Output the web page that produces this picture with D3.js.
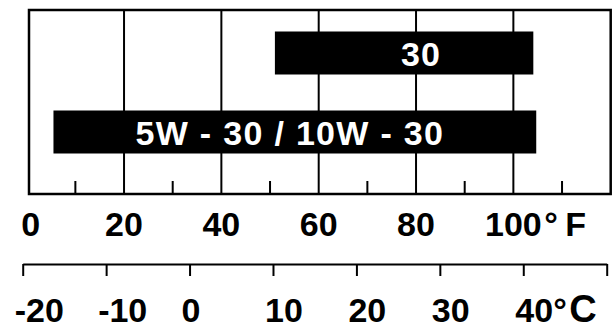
<!DOCTYPE html>
<html>
<head>
<meta charset="utf-8">
<script src="https://cdn.jsdelivr.net/npm/d3@7"></script>
<style>
  html, body { margin: 0; padding: 0; background: #fff; }
  svg { display: block; }
  text { font-family: "Liberation Sans", Arial, sans-serif; font-weight: bold; }
</style>
</head>
<body>
<svg id="chart" width="614" height="322"></svg>
<script>
// oil grades and their temperature span in degrees F
var grades = ["30", "5W - 30 / 10W - 30"];
var gradeLowF = [51, 5.5];
var gradeHighF = [104.1, 104.7];

// fahrenheit scale (inside the frame)
var fMajor = [0, 20, 40, 60, 80, 100];
var fMinor = [10, 30, 50, 70, 90, 110];
var fGrid = [20, 40, 60, 80, 100];

// celsius scale (under the chart)
var cTicks = [-20, -10, 0, 10, 20, 30, 40, 50];
var cLabels = [-20, -10, 0, 10, 20, 30, 40];

var svg = d3.select("#chart");

var frameTop = 10, frameBottom = 194, frameLeft = 29;

var x = d3.scaleLinear().domain([0, 120]).range([26.7, 610.7]);
var xc = d3.scaleLinear().domain([-20, 50]).range([22.7, 606.7]);
var y = d3.scalePoint().domain(grades).range([53, 132]);
var barH = 43;

// gridlines every 20F, full height
svg.append("g").selectAll("line").data(fGrid).enter().append("line")
    .attr("x1", function (d) { return x(d); })
    .attr("x2", function (d) { return x(d); })
    .attr("y1", frameTop)
    .attr("y2", frameBottom)
    .attr("stroke", "#000")
    .attr("stroke-width", 2);

// short ticks on the odd tens
svg.append("g").selectAll("line").data(fMinor).enter().append("line")
    .attr("x1", function (d) { return x(d); })
    .attr("x2", function (d) { return x(d); })
    .attr("y1", frameBottom - 13)
    .attr("y2", frameBottom)
    .attr("stroke", "#000")
    .attr("stroke-width", 2);

// bars
var bars = svg.append("g").selectAll("g").data(grades).enter().append("g");
bars.append("rect")
    .attr("x", function (d, i) { return x(gradeLowF[i]); })
    .attr("y", function (d) { return y(d) - barH / 2; })
    .attr("width", function (d, i) { return x(gradeHighF[i]) - x(gradeLowF[i]); })
    .attr("height", barH)
    .attr("fill", "#000");
bars.append("text")
    .attr("x", function (d, i) { return x(gradeHighF[i]) - 92; })
    .attr("y", function (d) { return y(d) + 13; })
    .attr("text-anchor", "end")
    .attr("fill", "#fff")
    .style("font-size", "34px")
    .style("letter-spacing", "1.3px")
    .text(function (d) { return d; });

// frame
svg.append("rect")
    .attr("x", frameLeft)
    .attr("y", frameTop)
    .attr("width", x(120) - frameLeft)
    .attr("height", frameBottom - frameTop)
    .attr("fill", "none")
    .attr("stroke", "#000")
    .attr("stroke-width", 2.5);

// fahrenheit labels
svg.append("g").selectAll("text").data(fMajor).enter().append("text")
    .attr("x", function (d) { return d === 0 ? x(d) + 4 : x(d); })
    .attr("y", 236)
    .attr("text-anchor", "middle")
    .style("font-size", "34px")
    .text(function (d) { return d; });
var fUnit = svg.append("text").attr("y", 236).style("font-size", "34px");
fUnit.append("tspan").attr("x", x(100) + 31).text("\u00B0");
fUnit.append("tspan").attr("x", x(100) + 52).text("F");

// celsius axis
var cAxis = d3.axisBottom(xc).tickValues(cTicks).tickSize(12).tickSizeOuter(0).tickFormat("");
var cg = svg.append("g").attr("transform", "translate(0,264)").call(cAxis);
cg.selectAll("path, line").attr("stroke", "#000").attr("stroke-width", 2);

svg.append("g").selectAll("text").data(cLabels).enter().append("text")
    .attr("x", function (d) { return xc(d) - 8; })
    .attr("y", 322)
    .style("font-size", "34px")
    .text(function (d) { return d; });
var cUnit = svg.append("text").attr("y", 322).style("font-size", "34px");
cUnit.append("tspan").attr("x", xc(40) + 30).text("\u00B0");
cUnit.append("tspan").attr("x", xc(40) + 46).style("font-size", "38px").text("C");
</script>
</body>
</html>
